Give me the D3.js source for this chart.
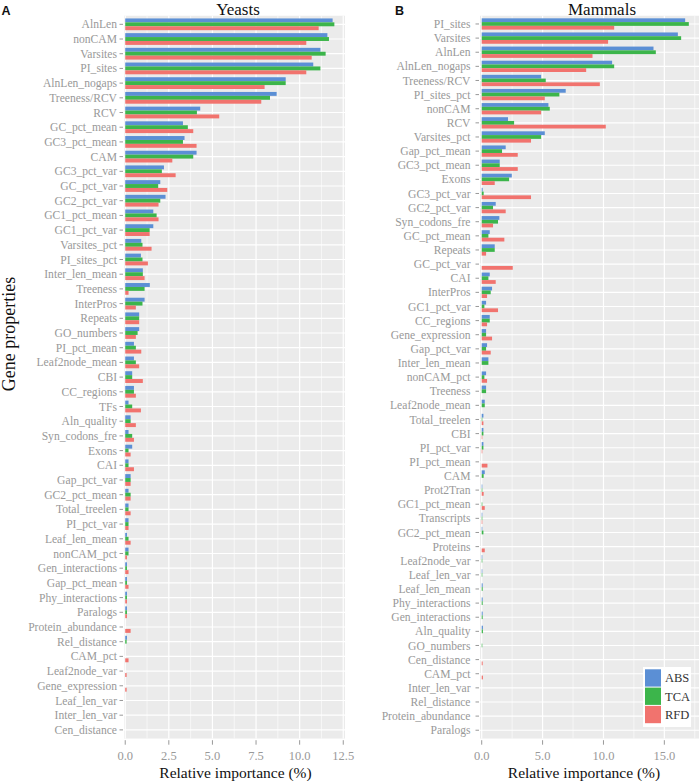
<!DOCTYPE html>
<html><head><meta charset="utf-8">
<script src="https://cdn.jsdelivr.net/npm/d3@7"></script>
<style>html,body{margin:0;padding:0;background:#fff}</style>
</head><body>
<script>
// ---------- DATA ----------
const seriesNames = ["ABS", "TCA", "RFD"];
const seriesColors = ["#5b8fd5", "#3cb54b", "#f1736e"];

const yeastCats = ["AlnLen","nonCAM","Varsites","PI_sites","AlnLen_nogaps","Treeness/RCV","RCV","GC_pct_mean","GC3_pct_mean","CAM","GC3_pct_var","GC_pct_var","GC2_pct_var","GC1_pct_mean","GC1_pct_var","Varsites_pct","PI_sites_pct","Inter_len_mean","Treeness","InterPros","Repeats","GO_numbers","PI_pct_mean","Leaf2node_mean","CBI","CC_regions","TFs","Aln_quality","Syn_codons_fre","Exons","CAI","Gap_pct_var","GC2_pct_mean","Total_treelen","PI_pct_var","Leaf_len_mean","nonCAM_pct","Gen_interactions","Gap_pct_mean","Phy_interactions","Paralogs","Protein_abundance","Rel_distance","CAM_pct","Leaf2node_var","Gene_expression","Leaf_len_var","Inter_len_var","Cen_distance"];
const yeastABS = [11.89,11.59,11.19,10.78,9.20,8.68,4.30,3.31,3.40,4.09,2.22,2.01,2.31,1.61,1.61,0.92,0.90,1.01,1.41,1.11,0.80,0.80,0.50,0.50,0.40,0.50,0.19,0.31,0.19,0.40,0.19,0.31,0.19,0.19,0.19,0.10,0.19,0.10,0.10,0.10,0.10,0,0.10,0,0,0,0,0,0];
const yeastTCA = [11.99,11.68,11.49,11.19,9.20,8.30,4.11,3.59,3.31,3.90,2.10,1.89,2.01,1.80,1.40,0.99,0.99,1.01,1.11,0.99,0.80,0.71,0.61,0.61,0.40,0.50,0.40,0.31,0.40,0.19,0.19,0.31,0.31,0.19,0.19,0.19,0.19,0.10,0.10,0.10,0.10,0,0.08,0,0,0,0,0,0];
const yeastRFD = [11.09,10.38,10.69,10.38,7.99,7.80,5.39,3.90,4.09,2.70,2.89,2.41,1.91,1.91,1.40,1.51,1.30,1.11,0.19,0.61,0.80,0.61,0.92,0.80,1.01,0.61,0.90,0.61,0.50,0.31,0.50,0.31,0.31,0.31,0.19,0.31,0.10,0.19,0.19,0.10,0.10,0.31,0,0.19,0.08,0.08,0,0,0];

const mammalCats = ["PI_sites","Varsites","AlnLen","AlnLen_nogaps","Treeness/RCV","PI_sites_pct","nonCAM","RCV","Varsites_pct","Gap_pct_mean","GC3_pct_mean","Exons","GC3_pct_var","GC2_pct_var","Syn_codons_fre","GC_pct_mean","Repeats","GC_pct_var","CAI","InterPros","GC1_pct_var","CC_regions","Gene_expression","Gap_pct_var","Inter_len_mean","nonCAM_pct","Treeness","Leaf2node_mean","Total_treelen","CBI","PI_pct_var","PI_pct_mean","CAM","Prot2Tran","GC1_pct_mean","Transcripts","GC2_pct_mean","Proteins","Leaf2node_var","Leaf_len_var","Leaf_len_mean","Phy_interactions","Gen_interactions","Aln_quality","GO_numbers","Cen_distance","CAM_pct","Inter_len_var","Rel_distance","Protein_abundance","Paralogs"];
const mammalABS = [16.71,16.11,14.11,10.71,4.88,6.90,5.48,2.16,5.18,1.97,1.48,2.47,0.08,1.15,1.45,0.66,1.07,0,0.66,0.85,0.36,0.66,0.36,0.44,0.55,0.36,0.36,0.25,0.14,0.14,0.14,0,0.25,0.05,0,0.05,0.05,0,0.05,0.05,0.08,0.08,0.08,0.10,0,0,0,0,0,0,0];
const mammalTCA = [17.01,16.38,14.30,10.88,5.26,6.38,5.59,2.66,4.88,1.67,1.48,2.25,0.16,0.93,1.34,0.55,1.07,0,0.55,0.74,0.22,0.66,0.36,0.36,0.55,0.22,0.36,0.25,0.05,0.14,0.14,0,0.16,0.05,0.05,0.05,0.14,0,0.05,0.05,0.08,0.08,0.08,0.10,0.05,0,0,0,0,0,0];
const mammalRFD = [10.88,10.38,9.10,8.58,9.70,5.18,4.88,10.19,4.05,2.96,2.96,1.07,4.05,1.97,0.93,1.86,0.36,2.55,1.15,0.44,1.34,0.44,0.85,0.74,0,0.44,0,0,0.14,0.05,0.05,0.47,0,0.16,0.25,0.05,0,0.25,0,0,0,0,0,0,0,0.08,0.10,0,0,0,0];

const yeastTicks = [0, 2.5, 5, 7.5, 10, 12.5];
const yeastTickLabels = ["0.0", "2.5", "5.0", "7.5", "10.0", "12.5"];
const yeastMinor = [1.25, 3.75, 6.25, 8.75, 11.25];
const mammalTicks = [0, 5, 10, 15];
const mammalTickLabels = ["0.0", "5.0", "10.0", "15.0"];
const mammalMinor = [2.5, 7.5, 12.5, 17.5];

// ---------- DRAW ----------
const W = 699, H = 781;
const svg = d3.select("body").append("svg").attr("width", W).attr("height", H)
  .style("display", "block").style("background", "#fff");
const serif = "'Liberation Serif','Times New Roman',serif";
const pTop = 15.5, pBottom = 738.7;

function panel(cfg) {
  const g = svg.append("g");
  const clipId = "clip" + cfg.id;
  svg.append("clipPath").attr("id", clipId).append("rect")
    .attr("x", cfg.left).attr("y", pTop).attr("width", Math.min(cfg.right, W) - cfg.left).attr("height", pBottom - pTop);
  const x = d3.scaleLinear().domain(cfg.xdomain).range([cfg.left, cfg.right]);
  const y = d3.scalePoint().domain(cfg.cats).range([pTop, pBottom]).padding(0.6);
  const step = y.step();
  const groupH = step * 0.8, barH = groupH / 3;

  const pg = g.append("g").attr("clip-path", `url(#${clipId})`);
  pg.append("rect").attr("x", cfg.left).attr("y", pTop).attr("width", cfg.right - cfg.left).attr("height", pBottom - pTop).attr("fill", "#ebebeb");
  pg.selectAll(".vmin").data(cfg.minor).join("line")
    .attr("x1", d => x(d)).attr("x2", d => x(d)).attr("y1", pTop).attr("y2", pBottom)
    .attr("stroke", "#fff").attr("stroke-width", 0.6);
  pg.selectAll(".vmaj").data(cfg.ticks).join("line")
    .attr("x1", d => x(d)).attr("x2", d => x(d)).attr("y1", pTop).attr("y2", pBottom)
    .attr("stroke", "#fff").attr("stroke-width", 1.2);
  pg.selectAll(".hmaj").data(cfg.cats).join("line")
    .attr("x1", cfg.left).attr("x2", cfg.right).attr("y1", d => y(d)).attr("y2", d => y(d))
    .attr("stroke", "#fff").attr("stroke-width", 1.2);

  cfg.series.forEach((vals, si) => {
    pg.selectAll(".b" + si).data(cfg.cats.map((c, i) => ({ c, v: vals[i] })).filter(d => d.v > 0)).join("rect")
      .attr("x", x(0))
      .attr("y", d => y(d.c) - groupH / 2 + si * barH)
      .attr("width", d => x(d.v) - x(0))
      .attr("height", barH)
      .attr("fill", seriesColors[si]);
  });

  const ya = g.append("g");
  ya.selectAll("line").data(cfg.cats).join("line")
    .attr("x1", cfg.left - 4.5).attr("x2", cfg.left - 1).attr("y1", d => y(d)).attr("y2", d => y(d))
    .attr("stroke", "#999").attr("stroke-width", 1);
  ya.selectAll("text").data(cfg.cats).join("text")
    .attr("x", cfg.left - cfg.labelGap).attr("y", d => y(d)).attr("dy", "0.35em")
    .attr("text-anchor", "end").attr("font-family", serif).attr("font-size", 11.6).attr("fill", "#999")
    .text(d => d);

  const xa = g.append("g");
  xa.selectAll("line").data(cfg.ticks).join("line")
    .attr("x1", d => x(d)).attr("x2", d => x(d)).attr("y1", pBottom + 1.5).attr("y2", pBottom + 6)
    .attr("stroke", "#999").attr("stroke-width", 1);
  xa.selectAll("text").data(cfg.ticks).join("text")
    .attr("x", d => x(d)).attr("y", 759.5).attr("text-anchor", "middle")
    .attr("font-family", serif).attr("font-size", 12.5).attr("fill", "#999")
    .text((d, i) => cfg.tickLabels[i]);

  g.append("text").attr("x", cfg.xtitleX).attr("y", 777.5).attr("text-anchor", "middle")
    .attr("font-family", serif).attr("font-size", 15.5).attr("fill", "#111").text("Relative importance (%)");
  g.append("text").attr("x", cfg.titleX).attr("y", 15.3).attr("text-anchor", "middle")
    .attr("font-family", serif).attr("font-size", 17).attr("fill", "#111").text(cfg.title);
  g.append("text").attr("x", cfg.tagX).attr("y", 15).attr("font-family", "'Liberation Sans',Arial,sans-serif")
    .attr("font-weight", "bold").attr("font-size", 12.5).attr("fill", "#111").text(cfg.tag);
  return { x, y };
}

panel({ id: "A", left: 124, right: 345, xdomain: [-0.07, 12.6], cats: yeastCats,
  series: [yeastABS, yeastTCA, yeastRFD], ticks: yeastTicks, tickLabels: yeastTickLabels, minor: yeastMinor,
  labelGap: 7, xtitleX: 235.5, titleX: 238, title: "Yeasts", tag: "A", tagX: 1.5 });

panel({ id: "B", left: 480, right: 724, xdomain: [-0.14, 19.9], cats: mammalCats,
  series: [mammalABS, mammalTCA, mammalRFD], ticks: mammalTicks, tickLabels: mammalTickLabels, minor: mammalMinor,
  labelGap: 9.5, xtitleX: 584, titleX: 602, title: "Mammals", tag: "B", tagX: 395 });

svg.append("text").attr("transform", "translate(15,334) rotate(-90)").attr("text-anchor", "middle")
  .attr("font-family", serif).attr("font-size", 18).attr("fill", "#111").text("Gene properties");

const lg = svg.append("g");
lg.append("rect").attr("x", 643).attr("y", 667).attr("width", 48).attr("height", 60).attr("fill", "#fff");
seriesNames.forEach((n, i) => {
  lg.append("rect").attr("x", 645).attr("y", 669.3 + i * 18.3).attr("width", 16).attr("height", 17.3).attr("fill", seriesColors[i]);
  lg.append("text").attr("x", 665).attr("y", 669.3 + i * 18.3 + 8.7).attr("dy", "0.35em")
    .attr("font-family", serif).attr("font-size", 12.5).attr("fill", "#333").text(n);
});
</script>
</body></html>
